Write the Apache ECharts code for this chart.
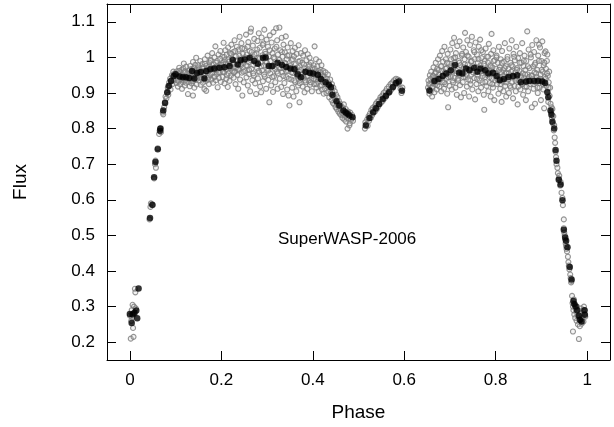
<!DOCTYPE html>
<html><head><meta charset="utf-8">
<script src="https://cdn.jsdelivr.net/npm/echarts@6/dist/echarts.min.js"></script>
<style>html,body{margin:0;padding:0;background:#fff}#c{width:614px;height:427px}</style>
</head><body><div id="c"></div>
<script>
const xTicks=[0,0.2,0.4,0.6,0.8,1];
const yTicks=[0.2,0.3,0.4,0.5,0.6,0.7,0.8,0.9,1,1.1];
const xLabel='Phase', yLabel='Flux', note='SuperWASP-2006';

const grayIngress=[[0.000,0.275],[0.002,0.21],[0.003,0.26],[0.004,0.29],[0.005,0.27],[0.006,0.305],[0.007,0.24],[0.008,0.215],[0.009,0.3],[0.010,0.28],[0.011,0.35],[0.012,0.34],[0.013,0.295],[0.006,0.28],[0.043,0.545],[0.045,0.58],[0.046,0.59],[0.050,0.585],[0.053,0.66],[0.055,0.70],[0.056,0.71],[0.057,0.69],[0.061,0.745],[0.064,0.785],[0.066,0.80],[0.068,0.79],[0.072,0.845],[0.073,0.84],[0.075,0.86],[0.077,0.875],[0.078,0.89],[0.080,0.885],[0.081,0.90],[0.083,0.915],[0.084,0.895],[0.086,0.93],[0.087,0.92],[0.088,0.94],[0.089,0.91],[0.090,0.935],[0.092,0.95],[0.093,0.925],[0.094,0.945],[0.095,0.96],[0.096,0.935],[0.098,0.955],[0.099,0.94]];

const grayMaxI=[[0.101,0.952],[0.102,0.928],[0.103,0.961],[0.104,0.940],[0.105,0.918],[0.106,0.955],[0.107,0.934],[0.108,0.971],[0.109,0.946],[0.110,0.925],[0.111,0.958],[0.112,0.939],[0.113,0.965],[0.114,0.912],[0.115,0.948],[0.116,0.930],[0.117,0.969],[0.118,0.983],[0.119,0.942],[0.120,0.921],[0.121,0.957],[0.122,0.936],[0.123,0.974],[0.124,0.950],
[0.126,0.944],[0.127,0.897],[0.128,0.962],[0.129,0.931],[0.130,0.953],[0.131,0.919],[0.132,0.976],[0.133,0.940],[0.134,0.958],[0.135,0.927],[0.136,0.968],[0.137,0.948],[0.138,0.893],[0.138,0.987],[0.139,0.935],[0.140,0.960],[0.141,0.915],[0.142,0.951],[0.143,0.979],[0.144,0.938],[0.145,0.999],[0.146,0.924],[0.147,0.963],[0.148,0.945],[0.149,0.972],
[0.151,0.935],[0.152,0.968],[0.153,0.951],[0.154,0.990],[0.155,0.923],[0.156,0.958],[0.157,0.940],[0.158,0.981],[0.159,0.962],[0.160,0.929],[0.161,0.973],[0.162,0.948],[0.163,0.911],[0.164,0.995],[0.165,0.955],[0.166,0.934],[0.167,0.906],[0.168,0.977],[0.169,0.960],[0.170,1.005],[0.171,0.943],[0.172,0.966],[0.173,0.925],[0.174,0.985],
[0.176,0.952],[0.177,0.993],[0.178,0.938],[0.179,0.971],[0.180,1.012],[0.181,0.958],[0.182,0.929],[0.183,0.980],[0.184,0.945],[0.185,1.000],[0.186,0.965],[0.187,1.031],[0.188,0.936],[0.189,0.975],[0.190,0.953],[0.191,0.990],[0.192,0.916],[0.193,0.968],[0.194,1.008],[0.195,0.942],[0.196,0.979],[0.197,0.958],[0.198,1.018],[0.199,0.931],
[0.201,0.972],[0.202,1.002],[0.203,0.945],[0.204,0.985],[0.205,1.041],[0.206,0.958],[0.207,0.927],[0.208,0.993],[0.209,1.020],[0.210,0.966],[0.211,0.940],[0.212,1.008],[0.213,0.979],[0.214,0.917],[0.215,1.028],[0.216,0.955],[0.217,0.988],[0.218,0.934],[0.219,1.012],[0.220,0.971],[0.221,0.949],[0.222,1.036],[0.223,0.996],[0.224,0.962],
[0.226,1.015],[0.227,0.943],[0.228,0.982],[0.229,1.048],[0.230,0.960],[0.231,0.925],[0.232,1.003],[0.233,0.972],[0.234,1.030],[0.235,0.951],[0.236,0.990],[0.237,0.912],[0.238,1.022],[0.239,0.966],[0.240,1.058],[0.241,0.938],[0.242,0.997],[0.243,0.977],[0.244,1.040],[0.245,0.957],[0.246,0.893],[0.247,1.010],[0.248,0.984],[0.249,0.930],
[0.251,1.025],[0.252,0.962],[0.253,0.995],[0.254,1.064],[0.255,0.944],[0.256,1.008],[0.257,0.976],[0.258,0.921],[0.259,1.043],[0.260,0.987],[0.261,0.953],[0.262,1.018],[0.263,0.905],[0.264,1.072],[0.265,1.081],[0.266,0.968],[0.267,1.001],[0.268,0.936],[0.269,1.033],[0.270,0.979],[0.271,0.949],[0.272,1.052],[0.273,0.992],[0.274,0.927],
[0.276,0.897],[0.277,1.012],[0.278,0.970],[0.279,1.046],[0.280,0.941],[0.281,0.998],[0.282,1.068],[0.283,0.958],[0.284,1.027],[0.285,0.918],[0.286,0.985],[0.287,0.902],[0.288,1.056],[0.289,0.963],[0.290,1.006],[0.291,0.933],[0.292,1.039],[0.293,0.977],[0.294,1.078],[0.295,0.946],[0.296,1.016],[0.297,0.989],[0.298,0.912],[0.299,1.050],
[0.301,0.968],[0.302,1.030],[0.303,0.937],[0.304,1.003],[0.305,0.874],[0.306,1.062],[0.307,0.955],[0.308,0.990],[0.309,0.921],[0.310,1.042],[0.311,0.974],[0.312,1.012],[0.313,0.903],[0.314,1.071],[0.315,0.947],[0.316,0.996],[0.317,1.025],[0.318,0.930],[0.319,0.982],[0.320,1.082],[0.321,0.960],[0.322,1.048],[0.323,0.912],[0.324,1.008],
[0.326,0.972],[0.327,1.084],[0.328,0.940],[0.329,1.020],[0.330,0.986],[0.331,0.917],[0.332,1.055],[0.333,0.958],[0.334,1.002],[0.335,0.897],[0.336,1.036],[0.337,0.969],[0.338,0.928],[0.339,1.014],[0.340,0.983],[0.341,1.059],[0.342,0.945],[0.343,0.995],[0.344,0.910],[0.345,1.028],[0.346,0.962],[0.347,0.893],[0.348,1.006],[0.349,0.865],
[0.351,0.975],[0.352,1.040],[0.353,0.938],[0.354,0.993],[0.355,0.915],[0.356,1.018],[0.357,0.956],[0.358,0.890],[0.359,1.003],[0.360,0.966],[0.361,1.027],[0.362,0.930],[0.363,0.981],[0.364,0.905],[0.365,1.010],[0.366,0.948],[0.367,0.972],[0.368,0.921],[0.369,1.034],[0.370,0.960],[0.371,0.874],[0.372,0.990],[0.373,0.937],[0.374,1.012],
[0.376,0.952],[0.377,0.985],[0.378,0.918],[0.379,1.005],[0.380,0.943],[0.381,0.970],[0.382,0.902],[0.383,1.020],[0.384,0.958],[0.385,0.930],[0.386,0.992],[0.387,0.946],[0.388,0.912],[0.389,1.009],[0.390,0.966],[0.391,0.935],[0.392,0.980],[0.393,0.999],[0.394,0.923],[0.395,0.955],[0.396,0.985],[0.397,0.940],[0.398,0.905],[0.399,0.970],
[0.401,0.948],[0.402,0.978],[0.403,0.925],[0.404,1.031],[0.405,0.960],[0.406,0.938],[0.407,0.995],[0.408,0.915],[0.409,0.952],[0.410,0.975],[0.411,0.932],[0.412,0.962],[0.413,0.905],[0.414,0.988],[0.415,0.944],[0.416,0.920],[0.417,0.965],[0.418,0.938],[0.419,0.978],[0.420,0.910],[0.421,0.950],[0.422,0.930],[0.423,0.962],[0.424,0.898]];

const grayCoreI=[[0.1015,0.948],[0.1045,0.935],[0.1075,0.962],[0.1105,0.944],[0.1135,0.951],[0.1165,0.937],[0.1195,0.960],[0.1225,0.929],[0.1255,0.955],[0.1285,0.941],[0.1315,0.966],[0.1345,0.947],[0.1375,0.933],[0.1405,0.970],[0.1435,0.952],[0.1465,0.940],[0.1495,0.978],[0.1525,0.957],[0.1555,0.944],[0.1585,0.969],[0.1615,0.950],[0.1645,0.982],[0.1675,0.961],[0.1705,0.938],[0.1735,0.974],[0.1765,0.990],[0.1795,0.955],[0.1825,0.968],[0.1855,0.946],[0.1885,0.985],[0.1915,0.972],[0.1945,0.958],[0.1975,0.996],[0.2005,0.979],[0.2035,0.960],[0.2065,1.001],[0.2095,0.983],[0.2125,0.950],[0.2155,0.994],[0.2185,0.971],[0.2215,1.010],[0.2245,0.985],[0.2275,0.958],[0.2305,1.018],[0.2335,0.992],[0.2365,0.968],[0.2395,1.005],[0.2425,0.981],[0.2455,1.025],[0.2485,0.960],[0.2515,1.000],[0.2545,0.978],[0.2575,1.030],[0.2605,0.965],[0.2635,0.993],[0.2665,1.015],[0.2695,0.955],[0.2725,1.008],[0.2755,0.984],[0.2785,1.022],[0.2815,0.962],[0.2845,0.998],[0.2875,0.975],[0.2905,1.035],[0.2935,0.952],[0.2965,1.010],[0.2995,0.985],[0.3025,0.963],[0.3055,1.020],[0.3085,0.975],[0.3115,0.945],[0.3145,1.000],[0.3175,0.968],[0.3205,1.030],[0.3235,0.955],[0.3265,0.993],[0.3295,0.970],[0.3325,1.015],[0.3355,0.948],[0.3385,0.985],[0.3415,0.962],[0.3445,1.005],[0.3475,0.940],[0.3505,0.978],[0.3535,0.958],[0.3565,0.995],[0.3595,0.935],[0.3625,0.970],[0.3655,0.950],[0.3685,0.988],[0.3715,0.928],[0.3745,0.965],[0.3775,0.945],[0.3805,0.980],[0.3835,0.935],[0.3865,0.962],[0.3895,0.948],[0.3925,0.975],[0.3955,0.930],[0.3985,0.958],[0.4015,0.940],[0.4045,0.968],[0.4075,0.925],[0.4105,0.952],[0.4135,0.940],[0.4165,0.958],[0.4195,0.922],[0.4225,0.945]];

const grayMinII=[[0.426,0.945],[0.427,0.912],[0.428,0.958],[0.429,0.925],[0.430,0.900],[0.431,0.940],[0.432,0.918],[0.433,0.952],[0.434,0.905],[0.435,0.930],[0.436,0.888],[0.437,0.920],[0.438,0.938],[0.439,0.898],[0.440,0.912],[0.441,0.880],[0.442,0.925],[0.443,0.902],[0.444,0.872],[0.445,0.915],[0.446,0.890],[0.447,0.868],[0.448,0.905],[0.449,0.882],[0.450,0.860],[0.451,0.895],[0.452,0.872],[0.453,0.855],[0.454,0.888],[0.455,0.865],[0.456,0.848],[0.457,0.878],[0.458,0.858],[0.459,0.842],[0.460,0.870],[0.461,0.852],[0.462,0.838],[0.463,0.862],[0.464,0.845],[0.465,0.830],[0.466,0.858],[0.467,0.840],[0.468,0.868],[0.469,0.825],[0.470,0.848],[0.471,0.835],[0.472,0.855],[0.473,0.820],[0.474,0.842],[0.475,0.830],[0.476,0.800],[0.477,0.848],[0.478,0.828],[0.480,0.809],[0.481,0.815],[0.482,0.845],[0.484,0.825],[0.486,0.838],[0.488,0.822],
[0.514,0.800],[0.515,0.818],[0.517,0.812],[0.519,0.826],[0.520,0.808],[0.522,0.835],[0.523,0.822],[0.525,0.842],[0.527,0.830],[0.528,0.852],[0.530,0.838],[0.531,0.858],[0.533,0.845],[0.535,0.862],[0.536,0.848],[0.538,0.870],[0.540,0.855],[0.541,0.875],[0.543,0.862],[0.545,0.880],[0.546,0.868],[0.548,0.888],[0.550,0.874],[0.552,0.893],[0.553,0.878],[0.555,0.900],[0.557,0.885],[0.559,0.905],[0.560,0.890],[0.562,0.912],[0.564,0.898],[0.566,0.918],[0.568,0.905],[0.570,0.925],[0.572,0.910],[0.574,0.930],[0.576,0.918],[0.578,0.936],[0.580,0.924],[0.582,0.940],[0.584,0.925],[0.586,0.938],[0.588,0.928],[0.590,0.935],[0.592,0.912],[0.594,0.900],[0.596,0.915]];

const grayMaxII=[[0.652,0.915],[0.653,0.935],[0.655,0.898],[0.656,0.950],[0.657,0.922],[0.658,0.905],[0.659,0.960],[0.660,0.930],[0.661,0.890],[0.662,0.945],[0.663,0.918],[0.664,0.972],[0.665,0.938],[0.666,0.902],[0.667,0.955],[0.668,0.925],[0.669,0.985],[0.670,0.945],[0.671,0.910],[0.672,0.968],[0.673,0.932],[0.674,0.995],
[0.676,0.952],[0.677,0.918],[0.678,1.005],[0.679,0.940],[0.680,0.975],[0.681,0.905],[0.682,0.962],[0.683,1.018],[0.684,0.930],[0.685,0.988],[0.686,0.948],[0.687,0.912],[0.688,1.030],[0.689,0.958],[0.690,0.925],[0.691,0.995],[0.692,0.940],[0.693,0.970],[0.694,0.898],[0.695,1.010],[0.696,0.860],[0.697,0.952],[0.698,0.982],[0.699,0.920],
[0.701,1.022],[0.702,0.945],[0.703,0.975],[0.704,0.910],[0.705,1.040],[0.706,0.960],[0.707,0.930],[0.708,0.998],[0.709,1.055],[0.710,0.942],[0.711,0.985],[0.712,0.915],[0.713,1.012],[0.714,0.955],[0.715,0.895],[0.716,1.032],[0.717,0.968],[0.718,0.935],[0.719,0.990],[0.720,0.950],[0.721,1.045],[0.722,0.922],[0.723,0.978],[0.724,0.888],
[0.726,1.005],[0.727,0.958],[0.728,0.930],[0.729,1.028],[0.730,0.972],[0.731,0.900],[0.732,0.995],[0.733,1.069],[0.734,0.945],[0.735,1.015],[0.736,0.962],[0.737,0.918],[0.738,1.048],[0.739,0.980],[0.740,0.938],[0.741,1.002],[0.742,0.890],[0.743,0.968],[0.744,1.035],[0.745,0.925],[0.746,0.988],[0.747,0.952],[0.748,1.058],[0.749,0.910],
[0.751,0.975],[0.752,1.020],[0.753,0.942],[0.754,0.995],[0.755,0.882],[0.756,1.042],[0.757,0.960],[0.758,0.925],[0.759,1.008],[0.760,0.950],[0.761,0.985],[0.762,0.905],[0.763,1.030],[0.764,0.968],[0.765,0.935],[0.766,1.050],[0.767,0.978],[0.768,0.915],[0.769,0.998],[0.770,0.955],[0.771,0.930],[0.772,1.015],[0.773,0.962],[0.774,0.895],
[0.775,0.853],[0.776,0.990],[0.777,0.945],[0.778,1.025],[0.779,0.965],[0.780,0.920],[0.781,1.002],[0.782,0.950],[0.783,0.985],[0.784,0.905],[0.785,1.038],[0.786,0.958],[0.787,0.928],[0.788,0.978],[0.789,0.890],[0.790,1.010],[0.791,1.066],[0.792,0.940],[0.793,0.972],[0.794,0.915],[0.795,1.020],[0.796,0.955],[0.797,0.880],[0.798,0.992],[0.799,0.935],
[0.801,0.968],[0.802,1.005],[0.803,0.925],[0.804,0.950],[0.805,0.985],[0.806,0.898],[0.807,1.030],[0.808,0.940],[0.809,0.972],[0.810,0.912],[0.811,0.995],[0.812,0.958],[0.813,0.875],[0.814,1.018],[0.815,0.932],[0.816,0.965],[0.817,0.905],[0.818,0.988],[0.819,0.945],[0.820,1.040],[0.821,0.920],[0.822,0.975],[0.823,0.890],[0.824,0.955],
[0.826,1.002],[0.827,0.938],[0.828,0.968],[0.829,0.900],[0.830,1.025],[0.831,0.950],[0.832,0.985],[0.833,0.915],[0.834,0.960],[0.835,1.048],[0.836,0.930],[0.837,0.975],[0.838,0.885],[0.839,1.010],[0.840,0.945],[0.841,0.920],[0.842,0.992],[0.843,0.958],[0.844,0.905],[0.845,1.030],[0.846,0.940],[0.847,0.970],[0.848,0.868],[0.849,0.998],
[0.851,0.935],[0.852,0.962],[0.853,1.012],[0.854,0.910],[0.855,0.948],[0.856,0.985],[0.857,0.925],[0.858,1.040],[0.859,0.955],[0.860,0.895],[0.861,0.975],[0.862,0.942],[0.863,1.005],[0.864,0.918],[0.865,0.965],[0.866,0.880],[0.867,0.990],[0.868,0.935],[0.869,1.073],[0.870,0.952],[0.871,0.905],[0.872,1.022],[0.873,0.945],[0.874,0.970],
[0.876,0.925],[0.877,1.000],[0.878,0.950],[0.879,0.860],[0.880,1.035],[0.881,0.940],[0.882,0.975],[0.883,0.912],[0.884,1.015],[0.885,0.958],[0.886,0.870],[0.887,0.985],[0.888,0.930],[0.889,1.048],[0.890,0.945],[0.891,0.965],[0.892,0.900],[0.893,1.005],[0.894,0.938],[0.895,1.036],[0.896,0.915],[0.897,1.028],[0.898,0.952],[0.899,0.880],
[0.900,0.990],[0.901,0.935],[0.902,1.045],[0.903,0.960],[0.904,0.910],[0.905,0.978],[0.906,0.857],[0.907,1.012],[0.908,0.945],[0.909,1.017],[0.910,0.968],[0.911,0.920],[0.912,0.990],[0.913,1.008],[0.914,0.948],[0.915,0.875],[0.916,0.930],[0.917,0.960],[0.918,0.892],[0.919,0.915]];

const grayCoreII=[[0.6545,0.925],[0.6575,0.940],[0.6605,0.915],[0.6635,0.948],[0.6665,0.930],[0.6695,0.958],[0.6725,0.922],[0.6755,0.965],[0.6785,0.940],[0.6815,0.975],[0.6845,0.948],[0.6875,0.930],[0.6905,0.968],[0.6935,0.985],[0.6965,0.945],[0.6995,0.960],[0.7025,0.995],[0.7055,0.935],[0.7085,0.975],[0.7115,1.000],[0.7145,0.962],[0.7175,0.940],[0.7205,0.985],[0.7235,0.958],[0.7265,1.010],[0.7295,0.945],[0.7325,0.980],[0.7355,0.952],[0.7385,1.005],[0.7415,0.965],[0.7445,0.935],[0.7475,0.990],[0.7505,0.958],[0.7535,1.015],[0.7565,0.972],[0.7595,0.940],[0.7625,0.995],[0.7655,0.960],[0.7685,1.020],[0.7715,0.948],[0.7745,0.982],[0.7775,0.930],[0.7805,0.968],[0.7835,1.002],[0.7865,0.945],[0.7895,0.975],[0.7925,0.925],[0.7955,0.990],[0.7985,0.955],[0.8015,1.000],[0.8045,0.938],[0.8075,0.965],[0.8105,0.925],[0.8135,0.985],[0.8165,0.948],[0.8195,0.970],[0.8225,0.930],[0.8255,0.995],[0.8285,0.955],[0.8315,0.920],[0.8345,0.978],[0.8375,0.945],[0.8405,1.002],[0.8435,0.935],[0.8465,0.965],[0.8495,0.918],[0.8525,0.985],[0.8555,0.945],[0.8585,0.925],[0.8615,0.990],[0.8645,0.952],[0.8675,0.918],[0.8705,0.975],[0.8735,0.935],[0.8765,1.008],[0.8795,0.948],[0.8825,0.925],[0.8855,0.980],[0.8885,0.955],[0.8915,0.915],[0.8945,0.990],[0.8975,0.940],[0.9005,0.965],[0.9035,0.925],[0.9065,0.985],[0.9095,0.940],[0.9125,0.955],[0.9155,0.915]];

const grayEgress=[[0.920,0.870],[0.921,0.845],[0.922,0.860],[0.923,0.830],[0.924,0.855],[0.925,0.815],[0.926,0.835],[0.927,0.795],[0.928,0.810],[0.929,0.775],[0.930,0.760],[0.931,0.735],[0.932,0.720],[0.933,0.700],[0.935,0.690],[0.936,0.675],[0.938,0.660],[0.939,0.668],[0.941,0.640],[0.942,0.650],[0.944,0.620],[0.946,0.605],[0.947,0.585],[0.949,0.545],[0.949,0.520],[0.950,0.508],[0.951,0.500],[0.952,0.488],[0.953,0.478],[0.954,0.470],[0.955,0.462],[0.956,0.455],[0.958,0.440],[0.959,0.425],[0.960,0.415],[0.961,0.405],[0.963,0.390],[0.964,0.380],[0.965,0.368],[0.966,0.372],[0.967,0.330],[0.968,0.310],[0.969,0.230],[0.969,0.300],[0.970,0.290],[0.971,0.320],[0.972,0.278],[0.973,0.305],[0.974,0.268],[0.975,0.295],[0.976,0.285],[0.977,0.260],[0.978,0.300],[0.979,0.275],[0.980,0.250],[0.981,0.290],[0.982,0.209],[0.983,0.270],[0.984,0.245],[0.985,0.280],[0.986,0.262],[0.987,0.295],[0.988,0.252],[0.989,0.275],[0.990,0.268],[0.991,0.288],[0.992,0.258],[0.993,0.300],[0.994,0.280],[0.995,0.290],[0.996,0.272]];

const binned=[[0.000,0.279],[0.004,0.254],[0.006,0.278],[0.010,0.283],[0.014,0.289],[0.016,0.267],[0.019,0.351],[0.044,0.549],[0.049,0.586],[0.053,0.663],[0.056,0.706],[0.061,0.742],[0.066,0.794],[0.067,0.800],[0.073,0.851],[0.077,0.872],[0.082,0.902],[0.085,0.920],[0.090,0.934],[0.096,0.948],[0.100,0.953],[0.109,0.946],[0.116,0.944],[0.123,0.944],[0.130,0.942],[0.136,0.962],[0.141,0.941],[0.147,0.956],[0.155,0.959],[0.163,0.941],[0.167,0.962],[0.176,0.967],[0.185,0.969],[0.196,0.971],[0.207,0.972],[0.218,0.976],[0.225,0.993],[0.236,0.980],[0.242,0.992],[0.251,0.994],[0.262,0.999],[0.272,0.990],[0.280,0.982],[0.291,0.999],[0.297,1.000],[0.304,0.976],[0.312,0.976],[0.323,0.985],[0.333,0.979],[0.342,0.973],[0.351,0.969],[0.360,0.967],[0.367,0.953],[0.374,0.944],[0.384,0.960],[0.393,0.957],[0.401,0.955],[0.411,0.951],[0.418,0.939],[0.428,0.930],[0.435,0.923],[0.440,0.916],[0.443,0.895],[0.452,0.877],[0.458,0.865],[0.467,0.851],[0.472,0.845],[0.476,0.842],[0.480,0.837],[0.487,0.832],[0.516,0.809],[0.524,0.830],[0.532,0.846],[0.538,0.857],[0.545,0.869],[0.553,0.883],[0.560,0.892],[0.567,0.902],[0.575,0.916],[0.582,0.928],[0.588,0.932],[0.595,0.906],[0.655,0.907],[0.666,0.934],[0.675,0.939],[0.684,0.948],[0.692,0.955],[0.702,0.964],[0.711,0.979],[0.720,0.957],[0.727,0.955],[0.735,0.969],[0.743,0.964],[0.753,0.971],[0.760,0.960],[0.767,0.969],[0.777,0.964],[0.784,0.955],[0.794,0.957],[0.802,0.948],[0.809,0.936],[0.818,0.939],[0.828,0.945],[0.838,0.948],[0.847,0.950],[0.855,0.930],[0.866,0.932],[0.874,0.934],[0.884,0.934],[0.893,0.934],[0.902,0.932],[0.908,0.928],[0.913,0.902],[0.915,0.888],[0.920,0.851],[0.922,0.839],[0.924,0.819],[0.928,0.800],[0.931,0.740],[0.933,0.710],[0.938,0.656],[0.942,0.643],[0.946,0.599],[0.949,0.516],[0.952,0.494],[0.954,0.485],[0.957,0.467],[0.962,0.411],[0.966,0.376],[0.970,0.316],[0.972,0.307],[0.975,0.300],[0.978,0.290],[0.982,0.274],[0.984,0.263],[0.988,0.258],[0.994,0.290],[0.995,0.277]];

const FONT='"Liberation Sans", Arial, sans-serif';
const fmt=v=>String(Math.round(v*10)/10);
const chart=echarts.init(document.getElementById('c'),null,{renderer:'canvas'});
const lineStyle={color:'#000',width:1};
function ax(pos,ticks,min,max,showLabel,name,gap){
  return {type:'value',position:pos,min:min,max:max,
    axisLine:{show:true,onZero:false,lineStyle:lineStyle},
    axisTick:{show:true,inside:true,length:9,customValues:ticks,lineStyle:lineStyle},
    axisLabel:{show:showLabel,customValues:ticks,formatter:fmt,color:'#000',fontFamily:FONT,fontSize:17,margin:12},
    splitLine:{show:false},
    name:name,nameLocation:'middle',nameGap:gap,
    nameTextStyle:{color:'#000',fontFamily:FONT,fontSize:19}};
}
chart.setOption({
  animation:false,
  backgroundColor:'#fff',
  grid:{left:107,right:4,top:4,bottom:65,containLabel:false},
  xAxis:[ax('bottom',xTicks,-0.05,1.05,true,xLabel,43),ax('top',xTicks,-0.05,1.05,false,'',0)],
  yAxis:[ax('left',yTicks,0.15,1.15,true,yLabel,77),ax('right',yTicks,0.15,1.15,false,'',0)],
  graphic:[{type:'text',left:278,top:231,style:{text:note,fill:'#000',font:'17px '+FONT}}],
  series:[
    {type:'scatter',xAxisIndex:0,yAxisIndex:0,silent:true,symbol:'circle',symbolSize:5,
     data:[].concat(grayIngress,grayMaxI,grayCoreI,grayMinII,grayMaxII,grayCoreII,grayEgress),
     itemStyle:{color:'rgba(200,200,200,0.25)',borderColor:'#7a7a7a',borderWidth:1.1}},
    {type:'scatter',xAxisIndex:0,yAxisIndex:0,silent:true,symbol:'circle',symbolSize:6.5,
     data:binned,itemStyle:{color:'#000'}}
  ]
});
</script></body></html>
